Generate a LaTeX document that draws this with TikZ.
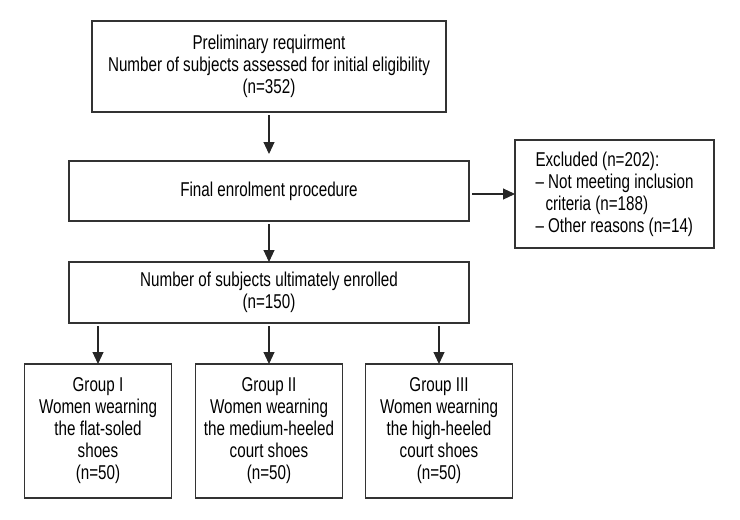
\documentclass[tikz,border=0pt]{standalone}
\usepackage{fontspec}
\setmainfont{Liberation Sans}[FakeStretch=0.76]
\usetikzlibrary{positioning, arrows.meta}
\tikzset{fbox/.style={draw=black!80, line width=1.1pt, inner sep=0pt, outer sep=0pt, align=center, font=\fontsize{20}{22}\selectfont}}
\tikzset{grpbox/.style={fbox, minimum width=147pt, minimum height=134pt}}
\tikzset{arr/.style={draw=black!85, line width=1.1pt, -{Triangle[width=11pt,length=12pt]}, shorten <=3pt}}

\begin{document}
\begin{tikzpicture}
	\useasboundingbox (0pt,0pt) rectangle (740pt,-520pt);
	\node[fbox, minimum width=354pt, minimum height=91pt] (prelim) at (269pt,-66.5pt)
		{Preliminary requirment\\Number of subjects assessed for initial eligibility\\(n=352)};
	\node[fbox, minimum width=400pt, minimum height=60pt, below=49pt of prelim] (final)
		{Final enrolment procedure};
	\node[fbox, align=left, minimum width=199pt, minimum height=108pt, right=46pt of final, yshift=-3pt] (excl)
		{Excluded (n=202):\\-- Not meeting inclusion\\\hspace*{10pt}criteria (n=188)\\-- Other reasons (n=14)};
	\node[fbox, minimum width=400pt, minimum height=61pt, below=41pt of final] (enrolled)
		{Number of subjects ultimately enrolled\\(n=150)};
	%
	\node[grpbox, below=41pt of enrolled] (g2)
		{Group II\\Women wearning\\the medium-heeled\\court shoes\\(n=50)};
	\node[grpbox, left=24pt of g2] (g1)
		{Group I\\Women wearning\\the flat-soled\\shoes\\(n=50)};
	\node[grpbox, right=23pt of g2] (g3)
		{Group III\\Women wearning\\the high-heeled\\court shoes\\(n=50)};
	%
	\draw[arr, shorten >=7pt] (prelim) -- (final);
	\draw[arr] (final.east |- excl.west) -- (excl.west);
	\draw[arr] (final) -- (enrolled);
	\foreach \g in {g1, g2, g3}
		\draw[arr] (enrolled.south -| \g.north) -- (\g.north);
\end{tikzpicture}
\end{document}
